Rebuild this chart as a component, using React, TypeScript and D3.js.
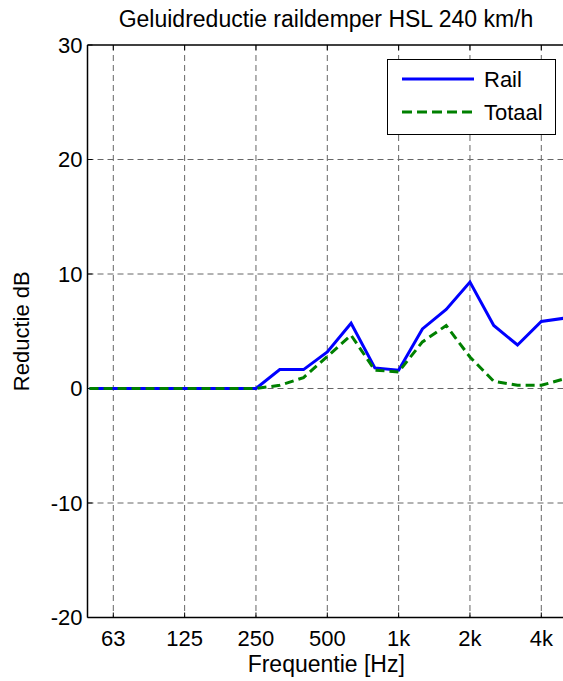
import React from "react";
import * as d3 from "d3";

const bands = ["50","63","80","100","125","160","200","250","315","400","500","630","800","1000","1250","1600","2000","2500","3150","4000","5000"];
const railValues = [0,0,0,0,0,0,0,0,1.65,1.65,3.2,5.7,1.8,1.6,5.2,6.9,9.3,5.5,3.8,5.85,6.15];
const totaalValues = [0,0,0,0,0,0,0,0,0.28,0.95,2.8,4.65,1.6,1.45,4.07,5.5,2.75,0.63,0.28,0.28,0.86];
const xTickBands = ["63","125","250","500","1000","2000","4000"];
const xTickLabels = ["63","125","250","500","1k","2k","4k"];
const yTicks = [-20,-10,0,10,20,30];
const seriesNames = ["Rail","Totaal"];

const W = 563, H = 681;
const left = 87.5, top = 45, bottom = 617.5;

export default function App() {
  const x = d3.scaleLinear().domain([1, 19]).range([113.3, 541.3]);
  const xRightIdx = x.invert(W + 20);
  const y = d3.scaleLinear().domain([-20, 30]).range([bottom, top]);
  const line = d3.line<number>().x((_, i) => x(i)).y(d => y(d));
  const font = "Liberation Sans, Arial, sans-serif";
  const right = x(xRightIdx);
  const fs = 22;

  return (
    <svg width={W} height={H} style={{ position: "absolute", left: 0, top: 0, background: "#fff" }} fontFamily={font}>
      <defs>
        <clipPath id="plot">
          <rect x={left} y={top} width={right - left} height={bottom - top} />
        </clipPath>
      </defs>
      <rect x={0} y={0} width={W} height={H} fill="#fff" />
      {xTickBands.map(b => {
        const xx = x(bands.indexOf(b));
        return <line key={"gx" + b} x1={xx} x2={xx} y1={top} y2={bottom} stroke="#666" strokeWidth={1} strokeDasharray="6,4" />;
      })}
      {yTicks.filter(t => t > -20 && t < 30).map(t => (
        <line key={"gy" + t} x1={left} x2={right} y1={y(t)} y2={y(t)} stroke="#666" strokeWidth={1} strokeDasharray="6,4" />
      ))}
      {xTickBands.map(b => {
        const xx = x(bands.indexOf(b));
        return (
          <g key={"tx" + b}>
            <line x1={xx} x2={xx} y1={bottom} y2={bottom - 5} stroke="#000" />
            <line x1={xx} x2={xx} y1={top} y2={top + 5} stroke="#000" />
          </g>
        );
      })}
      {yTicks.map(t => (
        <line key={"ty" + t} x1={left} x2={left + 5} y1={y(t)} y2={y(t)} stroke="#000" />
      ))}
      <g clipPath="url(#plot)">
        <path d={line(railValues) || ""} fill="none" stroke="#0000ff" strokeWidth={3} />
        <path d={line(totaalValues) || ""} fill="none" stroke="#008000" strokeWidth={3} strokeDasharray="9,5" />
      </g>
      <line x1={left} x2={left} y1={top} y2={bottom} stroke="#000" strokeWidth={1.5} />
      <line x1={left} x2={right} y1={bottom} y2={bottom} stroke="#000" strokeWidth={1.5} />
      <line x1={left} x2={right} y1={top} y2={top} stroke="#000" strokeWidth={1.5} />
      {yTicks.map(t => (
        <text key={"ly" + t} x={left - 5} y={y(t)} dy="0.36em" textAnchor="end" fontSize={fs}>{t}</text>
      ))}
      {xTickBands.map((b, i) => (
        <text key={"lx" + b} x={x(bands.indexOf(b))} y={646} textAnchor="middle" fontSize={fs}>{xTickLabels[i]}</text>
      ))}
      <text x={(left + W) / 2 + 1} y={672} textAnchor="middle" fontSize={23}>Frequentie [Hz]</text>
      <text transform={`translate(29,${(top + bottom) / 2}) rotate(-90)`} textAnchor="middle" fontSize={fs}>Reductie dB</text>
      <text x={326} y={27} textAnchor="middle" fontSize={23}>Geluidreductie raildemper HSL 240 km/h</text>
      <g>
        <rect x={387.5} y={59.5} width={168} height={75} fill="#fff" stroke="#000" strokeWidth={1} />
        <line x1={402} x2={474} y1={79} y2={79} stroke="#0000ff" strokeWidth={3} />
        <line x1={402} x2={474} y1={112} y2={112} stroke="#008000" strokeWidth={3} strokeDasharray="10,5" />
        <text x={484} y={79} dy="0.36em" fontSize={fs}>{seriesNames[0]}</text>
        <text x={484} y={112} dy="0.36em" fontSize={fs}>{seriesNames[1]}</text>
      </g>
    </svg>
  );
}
